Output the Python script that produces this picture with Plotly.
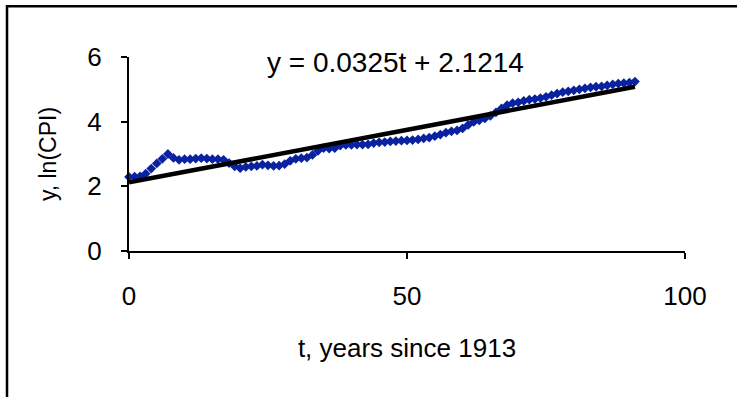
import plotly.graph_objects as go

# t, years since 1913
t_years = list(range(0, 92))
# y = ln(CPI)
ln_cpi = [
    2.29, 2.30, 2.31, 2.39, 2.55, 2.71, 2.85, 3.00, 2.88, 2.82,
    2.84, 2.84, 2.86, 2.87, 2.86, 2.84, 2.84, 2.82, 2.72, 2.62,
    2.56, 2.60, 2.62, 2.63, 2.67, 2.65, 2.63, 2.64, 2.69, 2.79,
    2.85, 2.87, 2.89, 2.97, 3.10, 3.18, 3.17, 3.18, 3.26, 3.28,
    3.28, 3.29, 3.29, 3.30, 3.34, 3.36, 3.37, 3.39, 3.40, 3.41,
    3.42, 3.43, 3.45, 3.48, 3.51, 3.55, 3.60, 3.66, 3.70, 3.73,
    3.79, 3.90, 3.99, 4.04, 4.10, 4.18, 4.29, 4.41, 4.51, 4.57,
    4.60, 4.64, 4.68, 4.70, 4.73, 4.77, 4.82, 4.87, 4.91, 4.94,
    4.97, 5.00, 5.03, 5.06, 5.08, 5.09, 5.12, 5.15, 5.18, 5.19,
    5.21, 5.24,
]
trend_slope = 0.0325
trend_intercept = 2.1214
trend_label = "y = 0.0325t + 2.1214"
x_ticks = [0, 50, 100]
y_ticks = [0, 2, 4, 6]

trend_t = [t_years[0], t_years[-1]]
trend_y = [trend_intercept + trend_slope * v for v in trend_t]

FONT = "Liberation Sans, Arial, sans-serif"

fig = go.Figure()
fig.add_trace(go.Scatter(
    x=t_years, y=ln_cpi, mode="markers",
    marker=dict(symbol="diamond", size=7.5, color="#0A22A0", line=dict(width=0)),
    showlegend=False, cliponaxis=False,
))
fig.add_trace(go.Scatter(
    x=trend_t, y=trend_y, mode="lines",
    line=dict(color="black", width=4.5),
    showlegend=False, cliponaxis=False,
))

fig.update_layout(
    width=737, height=397,
    margin=dict(l=129, r=52, t=57, b=146),
    paper_bgcolor="white", plot_bgcolor="white",
    font=dict(family=FONT, color="black"),
    xaxis=dict(
        range=[0, 100], tickvals=x_ticks, showgrid=False, zeroline=False,
        showline=True, linecolor="black", linewidth=2,
        ticks="outside", ticklen=6, tickwidth=2, tickcolor="black",
        tickfont=dict(size=26), ticklabelstandoff=15,
        title=dict(text="t, years since 1913", font=dict(size=26), standoff=29),
    ),
    yaxis=dict(
        range=[0, 6], tickvals=y_ticks, showgrid=False, zeroline=False,
        showline=True, linecolor="black", linewidth=2,
        ticks="outside", ticklen=6, tickwidth=2, tickcolor="black",
        tickfont=dict(size=26), ticklabelstandoff=14,
        title=dict(text="y, ln(CPI)", font=dict(size=23), standoff=24),
    ),
    annotations=[dict(
        text=trend_label, xref="paper", yref="paper", x=0.48, y=0.974,
        showarrow=False, font=dict(size=28), xanchor="center", yanchor="middle",
    )],
    shapes=[
        dict(type="rect", xref="paper", yref="paper",
             x0=-0.2194, x1=1.2, y0=-0.9, y1=1.262,
             line=dict(color="black", width=2.5), fillcolor="rgba(0,0,0,0)",
             layer="above"),
    ],
)

fig.write_html("out.html", config={"displayModeBar": False},
               post_script="document.body.style.margin='0';")
